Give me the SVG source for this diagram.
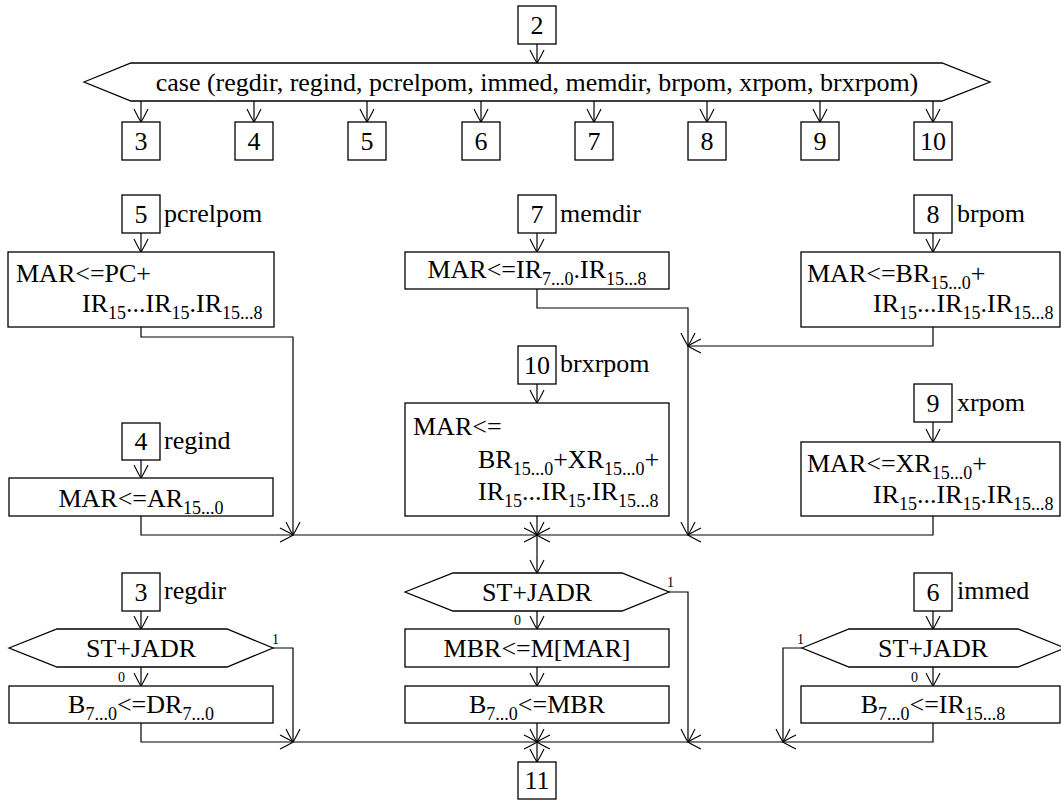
<svg xmlns="http://www.w3.org/2000/svg" width="1061" height="800" viewBox="0 0 1061 800">
  <style>
    .box { fill: #fff; stroke: #000; stroke-width: 1.3; }
    .t { font-family: "Liberation Serif", "Times New Roman", serif; font-size: 26px; fill: #000; }
    .m { text-anchor: middle; }
    .s { font-size: 18px; }
    .lbl { font-family: "Liberation Serif", "Times New Roman", serif; font-size: 14px; fill: #000; }
    .c { fill: none; stroke: #000; stroke-width: 1.2; marker-end: url(#ah); }
    .l { fill: none; stroke: #000; stroke-width: 1.2; }
  </style>
  <defs>
    <marker id="ah" viewBox="-15 -9 17 18" refX="0" refY="0" markerWidth="17" markerHeight="18" orient="auto" markerUnits="userSpaceOnUse">
      <path d="M-13,-7 Q-3,-2 0,0 Q-3,2 -13,7" fill="none" stroke="#000" stroke-width="1.1"/>
    </marker>
  </defs>
  <rect width="1061" height="800" fill="#fff"/>

  <!-- connectors -->
  <g id="connectors">
    <path class="c" d="M537,44 V63"/>
    <path class="c" d="M141,101 V122"/>
    <path class="c" d="M254,101 V122"/>
    <path class="c" d="M367,101 V122"/>
    <path class="c" d="M481,101 V122"/>
    <path class="c" d="M594,101 V122"/>
    <path class="c" d="M707,101 V122"/>
    <path class="c" d="M820,101 V122"/>
    <path class="c" d="M933,101 V122"/>

    <!-- address computation -->
    <path class="c" d="M141,233 V252"/>
    <path class="c" d="M141,327 V337 H293 V535"/>
    <path class="c" d="M141,460 V478"/>
    <path class="c" d="M141,516 V535 H293"/>
    <path class="c" d="M293,535 H537"/>
    <path class="c" d="M537,233 V252"/>
    <path class="c" d="M537,289 V308 H688 V346"/>
    <path class="c" d="M933,233 V252"/>
    <path class="c" d="M933,327 V346 H688"/>
    <path class="c" d="M688,346 V535"/>
    <path class="c" d="M537,384 V403"/>
    <path class="c" d="M537,516 V535"/>
    <path class="c" d="M933,422 V442"/>
    <path class="c" d="M933,516 V535 H688"/>
    <path class="c" d="M688,535 H537"/>
    <path class="c" d="M537,535 V573"/>

    <!-- operand fetch -->
    <path class="c" d="M141,611 V629"/>
    <path class="c" d="M273,648 H293 V742"/>
    <path class="c" d="M141,667 V686"/>
    <path class="c" d="M141,723 V742 H293"/>
    <path class="c" d="M293,742 H537"/>
    <path class="c" d="M669,592 H688 V742"/>
    <path class="c" d="M537,611 V629"/>
    <path class="c" d="M537,667 V686"/>
    <path class="c" d="M537,723 V742"/>
    <path class="c" d="M537,742 V762"/>
    <path class="c" d="M933,611 V629"/>
    <path class="c" d="M802,648 H783 V742"/>
    <path class="c" d="M933,667 V686"/>
    <path class="c" d="M933,723 V742 H783"/>
    <path class="c" d="M783,742 H688"/>
    <path class="c" d="M688,742 H537"/>
  </g>

  <!-- case header -->
  <g id="n2">
    <rect class="box" x="518" y="6" width="38" height="38"/>
    <text class="t m" x="537" y="34">2</text>
  </g>
  <g id="case">
    <polygon class="box" points="84,82 131,63 942,63 990,82 942,101 131,101"/>
    <text class="t m" x="537" y="91">case (regdir, regind, pcrelpom, immed, memdir, brpom, xrpom, brxrpom)</text>
  </g>
  <g id="c3"><rect class="box" x="122" y="122" width="38" height="38"/><text class="t m" x="141" y="150">3</text></g>
  <g id="c4"><rect class="box" x="235" y="122" width="38" height="38"/><text class="t m" x="254" y="150">4</text></g>
  <g id="c5"><rect class="box" x="348" y="122" width="38" height="38"/><text class="t m" x="367" y="150">5</text></g>
  <g id="c6"><rect class="box" x="462" y="122" width="38" height="38"/><text class="t m" x="481" y="150">6</text></g>
  <g id="c7"><rect class="box" x="575" y="122" width="38" height="38"/><text class="t m" x="594" y="150">7</text></g>
  <g id="c8"><rect class="box" x="688" y="122" width="38" height="38"/><text class="t m" x="707" y="150">8</text></g>
  <g id="c9"><rect class="box" x="801" y="122" width="38" height="38"/><text class="t m" x="820" y="150">9</text></g>
  <g id="c10"><rect class="box" x="914" y="122" width="38" height="38"/><text class="t m" x="933" y="150">10</text></g>

  <!-- pcrelpom -->
  <g id="e5">
    <rect class="box" x="122" y="195" width="38" height="38"/>
    <text class="t m" x="141" y="223">5</text>
    <text class="t" x="164" y="222">pcrelpom</text>
  </g>
  <g id="pcrel">
    <rect class="box" x="8" y="252" width="266" height="75"/>
    <text class="t" x="16" y="282">MAR&lt;=PC+</text>
    <text class="t" x="82" y="312">IR<tspan class="s" dy="7">15</tspan><tspan dy="-7">...IR</tspan><tspan class="s" dy="7">15</tspan><tspan dy="-7">.IR</tspan><tspan class="s" dy="7">15...8</tspan></text>
  </g>

  <!-- memdir -->
  <g id="e7">
    <rect class="box" x="518" y="195" width="38" height="38"/>
    <text class="t m" x="537" y="223">7</text>
    <text class="t" x="560" y="222">memdir</text>
  </g>
  <g id="memdir">
    <rect class="box" x="405" y="252" width="264" height="37"/>
    <text class="t m" x="537" y="278">MAR&lt;=IR<tspan class="s" dy="7">7...0</tspan><tspan dy="-7">.IR</tspan><tspan class="s" dy="7">15...8</tspan></text>
  </g>

  <!-- brpom -->
  <g id="e8">
    <rect class="box" x="914" y="195" width="38" height="38"/>
    <text class="t m" x="933" y="223">8</text>
    <text class="t" x="957" y="222">brpom</text>
  </g>
  <g id="brpom">
    <rect class="box" x="801" y="252" width="259" height="75"/>
    <text class="t" x="807" y="282">MAR&lt;=BR<tspan class="s" dy="7">15...0</tspan><tspan dy="-7">+</tspan></text>
    <text class="t" x="873" y="312">IR<tspan class="s" dy="7">15</tspan><tspan dy="-7">...IR</tspan><tspan class="s" dy="7">15</tspan><tspan dy="-7">.IR</tspan><tspan class="s" dy="7">15...8</tspan></text>
  </g>

  <!-- brxrpom -->
  <g id="e10">
    <rect class="box" x="518" y="346" width="38" height="38"/>
    <text class="t m" x="537" y="374">10</text>
    <text class="t" x="560" y="372">brxrpom</text>
  </g>
  <g id="brxrpom">
    <rect class="box" x="405" y="403" width="264" height="113"/>
    <text class="t" x="413" y="435">MAR&lt;=</text>
    <text class="t" x="478" y="468">BR<tspan class="s" dy="7">15...0</tspan><tspan dy="-7">+XR</tspan><tspan class="s" dy="7">15...0</tspan><tspan dy="-7">+</tspan></text>
    <text class="t" x="478" y="500">IR<tspan class="s" dy="7">15</tspan><tspan dy="-7">...IR</tspan><tspan class="s" dy="7">15</tspan><tspan dy="-7">.IR</tspan><tspan class="s" dy="7">15...8</tspan></text>
  </g>

  <!-- regind -->
  <g id="e4">
    <rect class="box" x="122" y="423" width="38" height="37"/>
    <text class="t m" x="141" y="450">4</text>
    <text class="t" x="164" y="449">regind</text>
  </g>
  <g id="regind">
    <rect class="box" x="9" y="478" width="264" height="38"/>
    <text class="t m" x="141" y="507">MAR&lt;=AR<tspan class="s" dy="7">15...0</tspan></text>
  </g>

  <!-- xrpom -->
  <g id="e9">
    <rect class="box" x="914" y="384" width="38" height="38"/>
    <text class="t m" x="933" y="412">9</text>
    <text class="t" x="957" y="411">xrpom</text>
  </g>
  <g id="xrpom">
    <rect class="box" x="801" y="442" width="259" height="74"/>
    <text class="t" x="807" y="472">MAR&lt;=XR<tspan class="s" dy="7">15...0</tspan><tspan dy="-7">+</tspan></text>
    <text class="t" x="873" y="503">IR<tspan class="s" dy="7">15</tspan><tspan dy="-7">...IR</tspan><tspan class="s" dy="7">15</tspan><tspan dy="-7">.IR</tspan><tspan class="s" dy="7">15...8</tspan></text>
  </g>

  <!-- regdir -->
  <g id="e3">
    <rect class="box" x="122" y="573" width="38" height="38"/>
    <text class="t m" x="141" y="601">3</text>
    <text class="t" x="164" y="599">regdir</text>
  </g>
  <g id="st1">
    <polygon class="box" points="9,648 57,629 227,629 273,648 227,667 57,667"/>
    <text class="t m" x="141" y="657">ST+JADR</text>
    <text class="lbl" x="272" y="644">1</text>
    <text class="lbl" x="118" y="682">0</text>
  </g>
  <g id="regdir">
    <rect class="box" x="9" y="686" width="264" height="37"/>
    <text class="t m" x="141" y="713">B<tspan class="s" dy="7">7...0</tspan><tspan dy="-7">&lt;=DR</tspan><tspan class="s" dy="7">7...0</tspan></text>
  </g>

  <!-- memory operand -->
  <g id="st2">
    <polygon class="box" points="405,592 453,573 622,573 669,592 622,611 453,611"/>
    <text class="t m" x="537" y="601">ST+JADR</text>
    <text class="lbl" x="667" y="587">1</text>
    <text class="lbl" x="514" y="625">0</text>
  </g>
  <g id="mbr">
    <rect class="box" x="405" y="629" width="264" height="38"/>
    <text class="t m" x="537" y="657">MBR&lt;=M[MAR]</text>
  </g>
  <g id="bmbr">
    <rect class="box" x="405" y="686" width="264" height="37"/>
    <text class="t m" x="537" y="713">B<tspan class="s" dy="7">7...0</tspan><tspan dy="-7">&lt;=MBR</tspan></text>
  </g>

  <!-- immed -->
  <g id="e6">
    <rect class="box" x="914" y="573" width="38" height="38"/>
    <text class="t m" x="933" y="601">6</text>
    <text class="t" x="957" y="599">immed</text>
  </g>
  <g id="st3">
    <polygon class="box" points="802,648 849,629 1018,629 1065,648 1018,667 849,667"/>
    <text class="t m" x="933" y="657">ST+JADR</text>
    <text class="lbl" x="797" y="644">1</text>
    <text class="lbl" x="911" y="682">0</text>
  </g>
  <g id="immed">
    <rect class="box" x="801" y="686" width="259" height="37"/>
    <text class="t m" x="933" y="713">B<tspan class="s" dy="7">7...0</tspan><tspan dy="-7">&lt;=IR</tspan><tspan class="s" dy="7">15...8</tspan></text>
  </g>

  <g id="n11">
    <rect class="box" x="518" y="762" width="38" height="37"/>
    <text class="t m" x="537" y="789">11</text>
  </g>
</svg>
